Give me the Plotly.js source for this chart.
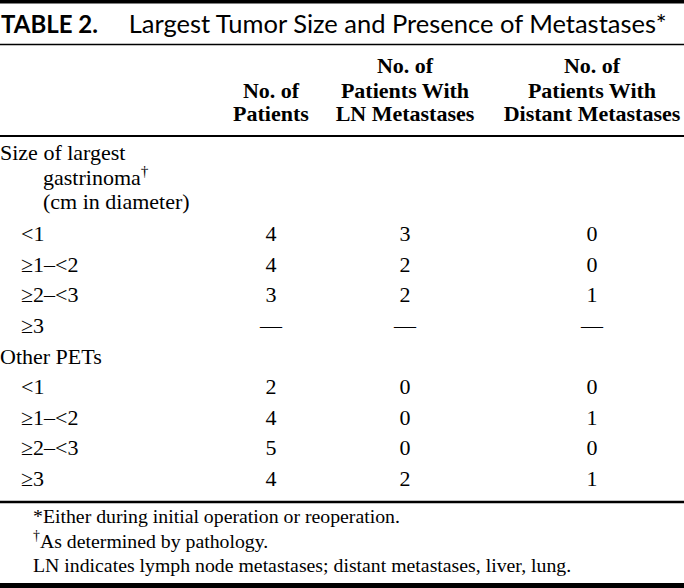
<!DOCTYPE html>
<html><head><meta charset="utf-8">
<script src="https://cdn.plot.ly/plotly-3.0.1.min.js"></script>
<style>html,body{margin:0;padding:0;background:#fff}#chart{width:684px;height:588px}</style>
</head><body><div id="chart"></div>
<script>
// ---------- data ----------
const titleBold = "TABLE 2.";
const titleRest = "Largest Tumor Size and Presence of Metastases*";
const headerCol1 = ["", "No. of", "Patients"];
const headerCol2 = ["No. of", "Patients With", "LN Metastases"];
const headerCol3 = ["No. of", "Patients With", "Distant Metastases"];
const groupLabel1 = ["Size of largest", "gastrinoma<sup>†</sup>", "(cm in diameter)"];
const groupLabel2 = "Other PETs";
const sizeCategories = ["&lt;1", "≥1–&lt;2", "≥2–&lt;3", "≥3"];
const gastrinomaPatients = [4, 4, 3, null];
const gastrinomaLN = [3, 2, 2, null];
const gastrinomaDistant = [0, 0, 1, null];
const otherPatients = [2, 4, 5, 4];
const otherLN = [0, 0, 0, 2];
const otherDistant = [0, 1, 0, 1];
const footnotes = [
  "*Either during initial operation or reoperation.",
  "<sup>†</sup>As determined by pathology.",
  "LN indicates lymph node metastases; distant metastases, liver, lung."
];

// ---------- layout geometry (pixels) ----------
const W = 684, H = 588;
const colX = [271, 405, 592];
const bodySize = 22, headSize = 22, noteSize = 19.8;
const serif = "Liberation Serif, Times New Roman, serif";
const ctr = (baseline, size) => baseline - 0.33 * size;   // baseline -> text centre
const headerBase = [75, 100, 123];
const groupBase = [162, 186.5, 211];
const rowBase0 = 243, rowStep = 30.6;
const noteBase = [525, 550, 574];
const labelX = 0, indentX = 21, subIndentX = 43, noteX = 33;

const fmt = v => (v === null ? "—" : String(v));
const traces = [];
const txt = (x, y, text, size, bold, pos) => ({
  type: "scatter", mode: "text", x, y, text,
  textposition: pos || "middle center",
  textfont: { family: serif, size, color: "#000", weight: bold ? "bold" : "normal" },
  hoverinfo: "skip", showlegend: false, cliponaxis: false
});

// header (skip empty cells)
for (let r = 0; r < 3; r++) {
  const texts = [headerCol1[r], headerCol2[r], headerCol3[r]];
  const keep = texts.map((t, i) => i).filter(i => texts[i] !== "");
  traces.push(txt(keep.map(i => colX[i]), keep.map(() => ctr(headerBase[r], headSize)),
    keep.map(i => texts[i]), headSize, true));
}
// group labels
traces.push(txt([labelX, subIndentX, subIndentX], groupBase.map(b => ctr(b, bodySize)),
  groupLabel1, bodySize, false, "middle right"));
const rowY = i => ctr(rowBase0 + rowStep * i, bodySize);
traces.push(txt([labelX], [rowY(4)], [groupLabel2], bodySize, false, "middle right"));
// row category labels
const catY = sizeCategories.map((_, i) => rowY(i)).concat(sizeCategories.map((_, i) => rowY(i + 5)));
traces.push(txt(catY.map(() => indentX), catY, sizeCategories.concat(sizeCategories), bodySize, false, "middle right"));
// values
const cols = [gastrinomaPatients.concat(otherPatients), gastrinomaLN.concat(otherLN), gastrinomaDistant.concat(otherDistant)];
cols.forEach((vals, c) => {
  traces.push(txt(vals.map(() => colX[c]), catY, vals.map(fmt), bodySize, false));
});
// footnotes
traces.push(txt(footnotes.map(() => noteX), noteBase.map(b => ctr(b, noteSize)), footnotes, noteSize, false, "middle right"));

const hline = (y, w) => ({ type: "line", xref: "x", yref: "y", x0: 0, x1: W, y0: y, y1: y, line: { color: "#000", width: w } });

const layout = {
  width: W, height: H,
  margin: { l: 0, r: 0, t: 0, b: 0, pad: 0 },
  paper_bgcolor: "#fff", plot_bgcolor: "#fff",
  showlegend: false, hovermode: false,
  title: {
    text: "<b>" + titleBold + "</b>&nbsp;&nbsp;&nbsp;&nbsp; <span style=\"font-size:25.5px\">" + titleRest + "</span>",
    font: { family: "Lato, Open Sans, sans-serif", size: 24, color: "#000" },
    x: 1 / W, xref: "paper", xanchor: "left",
    y: 1 - 25 / H, yref: "container", yanchor: "middle"
  },
  xaxis: { range: [0, W], visible: false, fixedrange: true },
  yaxis: { range: [H, 0], visible: false, fixedrange: true },
  shapes: [
    { type: "rect", xref: "x", yref: "y", x0: 0, x1: W, y0: 0, y1: 3.5, fillcolor: "#000", line: { width: 0 } },
    hline(44.5, 1.5),
    hline(136, 2),
    hline(502, 2.5),
    { type: "rect", xref: "x", yref: "y", x0: 0, x1: W, y0: 583, y1: H, fillcolor: "#000", line: { width: 0 } }
  ]
};

Plotly.newPlot("chart", traces, layout, { staticPlot: true, displayModeBar: false });
</script>
</body></html>
